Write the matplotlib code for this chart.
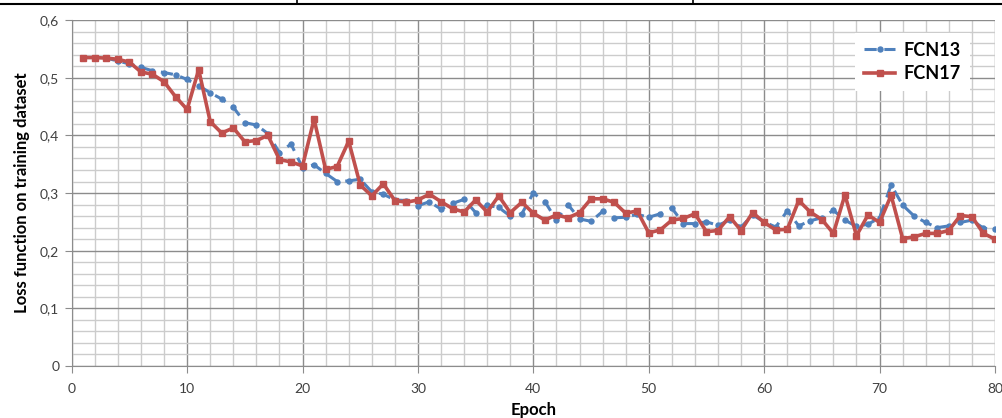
"""Training loss curves for FCN13 vs FCN17."""
import matplotlib
matplotlib.use("Agg")
import matplotlib.pyplot as plt
from matplotlib.lines import Line2D
from matplotlib.ticker import MultipleLocator, FuncFormatter
import numpy as np

epochs = list(range(1, 81))

fcn13 = [0.535, 0.535, 0.534, 0.529, 0.524, 0.518, 0.512, 0.509, 0.505, 0.497,
         0.486, 0.474, 0.463, 0.449, 0.422, 0.418, 0.403, 0.370, 0.385, 0.344,
         0.349, 0.334, 0.320, 0.321, 0.324, 0.302, 0.298, 0.288, 0.287, 0.278,
         0.285, 0.272, 0.282, 0.289, 0.266, 0.279, 0.275, 0.260, 0.264, 0.300,
         0.285, 0.253, 0.280, 0.255, 0.251, 0.268, 0.257, 0.258, 0.263, 0.258,
         0.264, 0.274, 0.247, 0.247, 0.250, 0.244, 0.253, 0.241, 0.262, 0.250,
         0.241, 0.269, 0.243, 0.252, 0.257, 0.270, 0.253, 0.242, 0.246, 0.257,
         0.314, 0.279, 0.260, 0.249, 0.240, 0.243, 0.249, 0.253, 0.239, 0.237]

fcn17 = [0.535, 0.535, 0.534, 0.532, 0.527, 0.510, 0.506, 0.493, 0.467, 0.445,
         0.514, 0.424, 0.404, 0.413, 0.389, 0.391, 0.400, 0.358, 0.354, 0.347,
         0.428, 0.341, 0.346, 0.390, 0.314, 0.295, 0.316, 0.287, 0.284, 0.288,
         0.298, 0.285, 0.273, 0.267, 0.288, 0.267, 0.295, 0.266, 0.284, 0.265,
         0.253, 0.262, 0.257, 0.266, 0.290, 0.290, 0.284, 0.265, 0.269, 0.231,
         0.236, 0.253, 0.256, 0.264, 0.233, 0.235, 0.259, 0.235, 0.266, 0.249,
         0.236, 0.237, 0.287, 0.267, 0.254, 0.230, 0.297, 0.226, 0.262, 0.249,
         0.296, 0.221, 0.224, 0.230, 0.230, 0.235, 0.261, 0.259, 0.230, 0.220]

plt.rcParams["font.family"] = ["Lato", "DejaVu Sans"]

fig = plt.figure(figsize=(10.03, 4.18), dpi=100)
ax = fig.add_axes([0.0715, 0.1244, 0.9205, 0.8276])

ax.plot(epochs, fcn13, color="#4F81BD", lw=2.2, ls=(0, (4, 2.5)), marker="o",
        markersize=3.6, label="FCN13", zorder=3)
ax.plot(epochs, fcn17, color="#C0504D", lw=2.6, marker="s",
        markersize=4.3, label="FCN17", zorder=4)

ax.set_xlim(0, 80)
ax.set_ylim(0, 0.6)
ax.xaxis.set_major_locator(MultipleLocator(10))
ax.xaxis.set_minor_locator(MultipleLocator(2))
ax.yaxis.set_major_locator(MultipleLocator(0.1))
ax.yaxis.set_minor_locator(MultipleLocator(0.02))
ax.yaxis.set_major_formatter(FuncFormatter(lambda v, p: f"{v:.1f}".replace(".", ",") if v else "0"))

ax.grid(which="major", color="#8C8C8C", lw=1.0)
ax.grid(which="minor", color="#CCCCCC", lw=1.0)
ax.set_axisbelow(True)
ax.tick_params(which="major", length=5, color="#8C8C8C", labelsize=10,
               labelcolor="#404040")
ax.tick_params(axis="x", which="major", pad=7)
ax.tick_params(axis="y", which="major", pad=4)
ax.tick_params(which="minor", length=0)
for s in ["top", "right"]:
    ax.spines[s].set_visible(False)
for s in ["left", "bottom"]:
    ax.spines[s].set_color("#8C8C8C")

ax.set_xlabel("Epoch", fontsize=12, fontweight="bold", labelpad=5)
ax.set_ylabel("Loss function on training dataset", fontsize=12, fontweight="bold", labelpad=7)

leg = ax.legend(loc="upper right", bbox_to_anchor=(0.983, 0.99), frameon=True,
                fancybox=False, edgecolor="none", framealpha=1.0,
                prop={"weight": "bold", "size": 13}, handlelength=1.7,
                labelspacing=0.35, handletextpad=0.5, borderpad=0.5)

# table border above the chart
fig.add_artist(Line2D([0, 1], [0.991, 0.991], color="black", lw=1.5, transform=fig.transFigure))
for x in [297 / 1003, 693 / 1003]:
    fig.add_artist(Line2D([x, x], [0.991, 1.0], color="black", lw=1.2, transform=fig.transFigure))

fig.savefig("out.png", dpi=100)
print("Saved out.png")
